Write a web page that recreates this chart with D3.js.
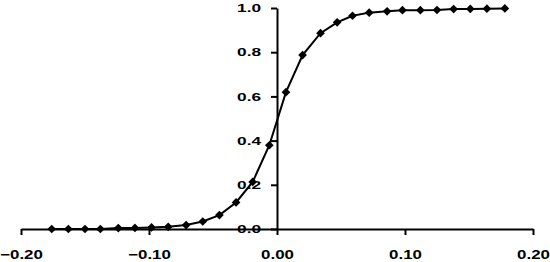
<!DOCTYPE html>
<html>
<head>
<meta charset="utf-8">
<script src="https://cdn.jsdelivr.net/npm/d3@7"></script>
<style>
  html, body { margin: 0; padding: 0; background: #fff; }
  svg { display: block; }
  .axis text { font-family: "Liberation Sans", Arial, sans-serif; font-weight: bold; fill: #000; }
</style>
</head>
<body>
<div id="chart"></div>
<script>
// values
const xValues = [
  -0.176, -0.163, -0.150, -0.138, -0.124, -0.111, -0.098, -0.085, -0.071, -0.058,
  -0.045, -0.032, -0.019, -0.006, 0.007, 0.020, 0.034, 0.047, 0.059, 0.072,
  0.086, 0.098, 0.112, 0.125, 0.138, 0.151, 0.164, 0.178
];
const yValues = [
  0.000, 0.000, 0.000, 0.000, 0.004, 0.005, 0.007, 0.010, 0.018, 0.034,
  0.063, 0.120, 0.213, 0.379, 0.619, 0.787, 0.886, 0.935, 0.965, 0.979,
  0.985, 0.990, 0.990, 0.991, 0.995, 0.996, 0.997, 0.998
];
const xTicks = [-0.2, -0.1, 0, 0.1, 0.2];
const yTicks = [0, 0.2, 0.4, 0.6, 0.8, 1.0];

const width = 550;
const height = 262;

const points = xValues.map((x, i) => ({ x, y: yValues[i] }));

const svg = d3.select('#chart')
  .append('svg')
  .attr('width', width)
  .attr('height', height);

const xScale = d3.scaleLinear()
  .domain([-0.2, 0.2])
  .range([21, 533]);

const yScale = d3.scaleLinear()
  .domain([0, 1])
  .range([229, 8]);

// x axis, sits on y = 0
const sx = 1.3;
const xAxis = svg.append('g')
  .attr('class', 'axis')
  .attr('transform', `translate(0, ${yScale(0)})`)
  .call(d3.axisBottom(xScale)
    .tickValues(xTicks)
    .tickSize(6)
    .tickSizeOuter(0)
    .tickFormat(d3.format('.2f')));

xAxis.select('.domain').attr('stroke', '#000').attr('stroke-width', 2);
xAxis.selectAll('.tick line').attr('stroke', '#000').attr('stroke-width', 2);
xAxis.selectAll('.tick text')
  .attr('y', 25)
  .attr('dy', '0.35em')
  .style('font-size', '13px')
  .attr('transform', `scale(${sx},1)`)
  .attr('x', 0);

// y axis, sits on x = 0
const sy = 1.5;
const yAxis = svg.append('g')
  .attr('class', 'axis')
  .attr('transform', `translate(${xScale(0)}, 0)`)
  .call(d3.axisLeft(yScale)
    .tickValues(yTicks)
    .tickSize(6)
    .tickSizeOuter(0)
    .tickFormat(d3.format('.1f')));

yAxis.select('.domain').attr('stroke', '#000').attr('stroke-width', 2);
yAxis.selectAll('.tick line').attr('stroke', '#000').attr('stroke-width', 2);
yAxis.selectAll('.tick text')
  .style('font-size', '11.5px')
  .attr('x', -16 / sy)
  .attr('transform', `scale(${sy},1)`);

// curve
const line = d3.line()
  .x(d => xScale(d.x))
  .y(d => yScale(d.y));

svg.append('path')
  .datum(points)
  .attr('fill', 'none')
  .attr('stroke', '#000')
  .attr('stroke-width', 2)
  .attr('d', line);

// diamond markers
const marker = d3.symbol().type(d3.symbolSquare).size(38);
svg.append('g')
  .selectAll('path')
  .data(points)
  .join('path')
  .attr('d', marker)
  .attr('fill', '#000')
  .attr('transform', d => `translate(${xScale(d.x)}, ${yScale(d.y)}) rotate(45)`);
</script>
</body>
</html>
